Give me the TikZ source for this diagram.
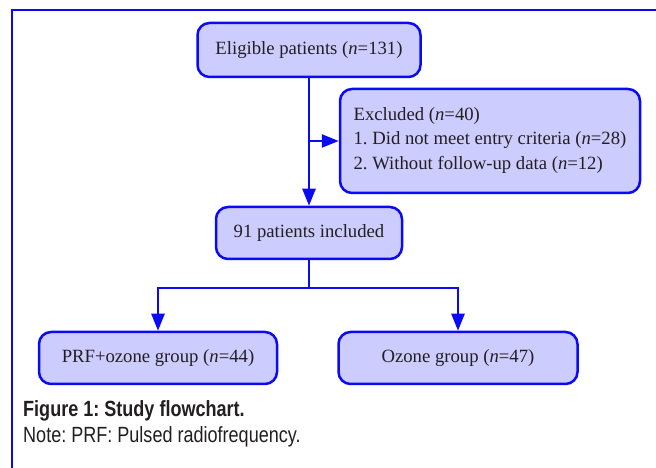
\documentclass[tikz,border=0pt]{standalone}
\usepackage{fontspec}
\setmainfont{Liberation Serif}
\newfontfamily\capfont[FakeStretch=0.82]{Liberation Sans}
\usetikzlibrary{arrows.meta}
\definecolor{lineblue}{HTML}{0A0AF5}
\definecolor{boxfill}{HTML}{CCCCFF}
\definecolor{textgray}{HTML}{231F20}
\frenchspacing
\begin{document}
\begin{tikzpicture}[x=1pt,y=1pt,
  flowbox/.style={draw=lineblue,fill=boxfill,line width=2.5pt,rounded corners=12pt,
    text=textgray,font=\fontsize{18.7}{24.5}\selectfont,inner sep=0pt},
  flowline/.style={draw=lineblue,line width=2.5pt},
  flowarrow/.style={flowline,-{Triangle[length=17pt,width=13pt]}}]
\useasboundingbox (0,0) rectangle (656,468);
\draw[lineblue,line width=2pt] (12,0) -- (12,458) -- (656,458);
% boxes
\node[flowbox,minimum width=223pt,minimum height=54pt] (eligible) at (309,418) {Eligible patients (\textit{n}=131)};
\node[flowbox,minimum width=300pt,minimum height=104pt,align=left] (excluded) at (490,327)
  {Excluded (\textit{n}=40)\\1. Did not meet entry criteria (\textit{n}=28)\\2. Without follow-up data (\textit{n}=12)\\[-19pt]};
\node[flowbox,minimum width=186pt,minimum height=52pt] (included) at (309,235) {91 patients included};
\node[flowbox,minimum width=238pt,minimum height=52pt] (prf) at (158,110) {PRF+ozone group (\textit{n}=44)};
\node[flowbox,minimum width=239pt,minimum height=52pt] (ozone) at (458,110) {Ozone group (\textit{n}=47)};
% connectors
\coordinate (branch) at (309,180);
\draw[flowarrow] (eligible.south) -- (included.north);
\draw[flowarrow] (eligible.south |- excluded.west) -- (excluded.west);
\draw[flowline] (included.south) -- (branch);
\draw[flowarrow] (branch) -| (prf.north);
\draw[flowarrow] (branch) -| (ozone.north);
% caption
\node[anchor=base west,inner sep=0pt,text=textgray,font=\capfont\bfseries\fontsize{22}{26}\selectfont] (caption) at (23,51) {Figure 1: Study flowchart.};
\node[anchor=base west,inner sep=0pt,text=textgray,font=\capfont\fontsize{22}{26}\selectfont] (note) at (23,25) {Note: PRF: Pulsed radiofrequency.};
\end{tikzpicture}
\end{document}
